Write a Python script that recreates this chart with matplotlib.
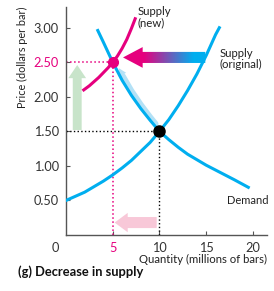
import matplotlib
matplotlib.use("Agg")
import matplotlib.pyplot as plt
import numpy as np
from matplotlib.patches import FancyArrow

plt.rcParams["font.family"] = ["Lato", "DejaVu Sans"]

CYAN = "#00aeef"
MAGENTA = "#e6007e"
LIGHT_BLUE = "#b3e1f6"
PALE_GREEN = "#c8e4ca"
PALE_PINK = "#f8c8d8"

# curves: quantity (millions of bars), price (dollars per bar)
demand_q = [3.4, 4.0, 5.0, 6.0, 7.0, 8.0, 9.0, 10.0, 11.0, 12.0, 13.0, 14.0, 15.0, 16.0, 17.0, 18.0, 19.5]
demand_p = [2.96, 2.79, 2.50, 2.24, 2.02, 1.83, 1.66, 1.50, 1.38, 1.27, 1.17, 1.09, 1.01, 0.94, 0.87, 0.80, 0.69]

supply_q = [0.0, 1.0, 2.0, 3.0, 4.0, 5.0, 6.0, 7.0, 8.0, 9.0, 10.0, 11.0, 12.0, 13.0, 14.0, 15.0, 16.0, 16.4]
supply_p = [0.50, 0.56, 0.62, 0.70, 0.78, 0.87, 0.97, 1.08, 1.21, 1.34, 1.50, 1.67, 1.87, 2.09, 2.33, 2.60, 2.90, 3.00]

new_supply_q = [1.9, 2.5, 3.0, 3.5, 4.0, 4.5, 5.0, 5.5, 6.0, 6.5, 7.0, 7.4]
new_supply_p = [2.10, 2.16, 2.22, 2.28, 2.35, 2.42, 2.50, 2.59, 2.70, 2.83, 2.99, 3.13]

# movement along demand (light blue band)
move_q = [6.1, 7.0, 8.0, 9.0, 9.6]
move_p = [2.30, 2.09, 1.89, 1.71, 1.61]

old_eq = (10, 1.5)
new_eq = (5, 2.5)

x_ticks = [5, 10, 15, 20]
y_ticks = [0.5, 1.0, 1.5, 2.0, 2.5, 3.0]
y_labels = ["0.50", "1.00", "1.50", "2.00", "2.50", "3.00"]

fig = plt.figure(figsize=(2.74, 2.91), dpi=100)
ax = fig.add_axes([66 / 274, 56 / 291, 201 / 274, 228 / 291])
ax.set_xlim(0, 21.5)
ax.set_ylim(0, 3.3)

# dotted guides
ax.plot([0, new_eq[0]], [new_eq[1], new_eq[1]], ls=":", color=MAGENTA, lw=1.1, zorder=2)
ax.plot([new_eq[0], new_eq[0]], [0, new_eq[1]], ls=":", color=MAGENTA, lw=1.1, zorder=2)
ax.plot([0, old_eq[0]], [old_eq[1], old_eq[1]], ls=":", color="black", lw=1.0, zorder=2)
ax.plot([old_eq[0], old_eq[0]], [0, old_eq[1]], ls=":", color="black", lw=1.0, zorder=2)

# pale arrows
ax.add_patch(FancyArrow(1.2, 1.52, 0, 0.94, width=0.95, head_width=1.9, head_length=0.19,
                        length_includes_head=True, color=PALE_GREEN, lw=0, zorder=1))
ax.add_patch(FancyArrow(9.7, 0.18, -4.5, 0, width=0.16, head_width=0.28, head_length=1.4,
                        length_includes_head=True, color=PALE_PINK, lw=0, zorder=1))

# light blue movement band with arrowhead
ax.plot(move_q, move_p, color=LIGHT_BLUE, lw=4, solid_capstyle="round", zorder=3)
ax.annotate("", xy=(5.5, 2.45), xytext=(6.2, 2.28),
            arrowprops=dict(arrowstyle="-|>,head_width=0.3,head_length=0.55",
                            color=LIGHT_BLUE, lw=0), zorder=3)

# gradient arrow (supply shifts left)
arr = FancyArrow(14.9, 2.57, -8.8, 0, width=0.16, head_width=0.30, head_length=2.1,
                 length_includes_head=True, lw=0, facecolor="none")
ax.add_patch(arr)
grad = np.linspace(0, 1, 256)
c0 = np.array(matplotlib.colors.to_rgb(MAGENTA))
c1 = np.array(matplotlib.colors.to_rgb(CYAN))
t = np.clip((grad - 0.25) / 0.6, 0, 1)[:, None]
img = (c0 * (1 - t) + c1 * t)[None, :, :]
im = ax.imshow(img, extent=[6.1, 14.9, 2.4, 2.74], aspect="auto", zorder=4)
im.set_clip_path(arr)

# curves
ax.plot(supply_q, supply_p, color=CYAN, lw=2.2, zorder=5)
ax.plot(demand_q, demand_p, color=CYAN, lw=2.2, zorder=5)
ax.plot(new_supply_q, new_supply_p, color=MAGENTA, lw=2.2, zorder=6)

ax.plot(*old_eq, "o", color="black", ms=8, zorder=7)
ax.plot(*new_eq, "o", color=MAGENTA, ms=7, zorder=7)

# labels on curves
ax.text(7.7, 3.15, "Supply\n(new)", fontsize=8.2, ha="left", va="center", linespacing=1.05, color="#222")
ax.text(16.4, 2.55, "Supply\n(original)", fontsize=8.2, ha="left", va="center", linespacing=1.05, color="#222")
ax.text(17.2, 0.5, "Demand", fontsize=8, ha="left", va="center", color="#222")

# axes styling
for s in ["top", "right"]:
    ax.spines[s].set_visible(False)
for s in ["left", "bottom"]:
    ax.spines[s].set_color("#555555")
    ax.spines[s].set_linewidth(1.0)
ax.set_xticks(x_ticks)
ax.set_xticklabels([str(v) for v in x_ticks])
ax.set_yticks(y_ticks)
ax.set_yticklabels(y_labels)
ax.tick_params(direction="in", length=3, width=0.8, color="#555555",
               labelsize=9.2, labelcolor="#333333", pad=5)
ax.get_xticklabels()[0].set_color(MAGENTA)
ax.get_yticklabels()[4].set_color(MAGENTA)
ax.text(-0.055, -0.03, "0", transform=ax.transAxes, fontsize=9.2, color="#333333",
        ha="center", va="top")

ax.set_xlabel("Quantity (millions of bars)", fontsize=8.2, loc="right", labelpad=0, color="#222")
ax.set_ylabel("Price (dollars per bar)", fontsize=7.8, loc="top", labelpad=4, color="#222")

fig.text(18 / 274, 1 - 272 / 291, "(g) Decrease in supply", fontsize=9.3, weight="bold",
         ha="left", va="center", color="#111")

fig.savefig("out.png", dpi=100)
